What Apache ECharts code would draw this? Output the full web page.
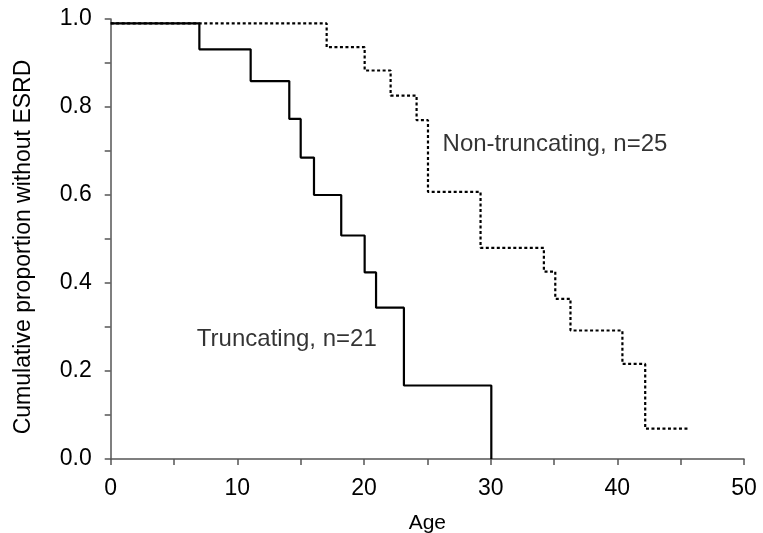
<!DOCTYPE html>
<html><head><meta charset="utf-8">
<script src="https://cdn.jsdelivr.net/npm/echarts@6/dist/echarts.min.js"></script>
<style>html,body{margin:0;padding:0;background:#fff}#c{width:763px;height:533px}</style>
</head><body><div id="c"></div>
<script>
// Kaplan-Meier step events [age, proportion]
const truncAges = [0, 7.0, 11.05, 14.1, 15.0, 16.05, 18.2, 20.05, 20.95, 23.15, 30.05];
const truncVals = [0.99, 0.931, 0.859, 0.773, 0.685, 0.600, 0.508, 0.424, 0.344, 0.167, 0.0];
const nonTruncAges = [0, 17.05, 20.05, 22.1, 24.15, 25.05, 29.2, 34.2, 35.1, 36.3, 40.4, 42.2, 45.7];
const nonTruncVals = [0.99, 0.936, 0.883, 0.826, 0.770, 0.607, 0.480, 0.426, 0.364, 0.292, 0.216, 0.069, 0.069];
const labels = [
  {text: 'Non-truncating, n=25', x: 26.2, y: 0.716},
  {text: 'Truncating, n=21', x: 6.8, y: 0.273}
];
const xTitle = 'Age';
const yTitle = 'Cumulative proportion without ESRD';

const zip = (a, b) => a.map((v, i) => [v, b[i]]);
const chart = echarts.init(document.getElementById('c'), null, {renderer: 'canvas'});
const axisCol = '#555';
const font = 'Liberation Sans';
chart.setOption({
  animation: false,
  backgroundColor: '#fff',
  grid: {left: 110.7, right: 19, top: 19, bottom: 74, outerBoundsMode: 'none', containLabel: false},
  xAxis: {
    type: 'value', min: 0, max: 50, interval: 10,
    name: xTitle, nameLocation: 'middle', nameGap: 54,
    nameTextStyle: {fontFamily: font, fontSize: 21, color: '#000'},
    axisLine: {show: true, onZero: false, lineStyle: {color: axisCol, width: 1.5}},
    axisTick: {show: true, inside: false, length: 6, lineStyle: {color: axisCol, width: 1.5}},
    minorTick: {show: true, splitNumber: 2, length: 6, lineStyle: {color: axisCol, width: 1.5}},
    axisLabel: {fontFamily: font, fontSize: 23, color: '#000', margin: 18},
    splitLine: {show: false}
  },
  yAxis: {
    type: 'value', min: 0, max: 1, interval: 0.2,
    name: yTitle, nameLocation: 'middle', nameGap: 76, nameRotate: 90,
    nameTextStyle: {fontFamily: font, fontSize: 23, color: '#000', padding: [0, 16, 0, 0]},
    axisLine: {show: true, onZero: false, lineStyle: {color: axisCol, width: 1.5}},
    axisTick: {show: true, inside: false, length: 6, lineStyle: {color: axisCol, width: 1.5}},
    minorTick: {show: true, splitNumber: 2, length: 6, lineStyle: {color: axisCol, width: 1.5}},
    axisLabel: {fontFamily: font, fontSize: 23, color: '#000', margin: 19,
      formatter: v => v.toFixed(1)},
    splitLine: {show: false}
  },
  series: [
    {
      type: 'line', step: 'end', data: zip(truncAges, truncVals),
      symbol: 'none', lineStyle: {color: '#000', width: 2.2}, z: 3
    },
    {
      type: 'line', step: 'end', data: zip(nonTruncAges, nonTruncVals),
      symbol: 'none', lineStyle: {color: '#000', width: 2.2, type: [3, 2.5]}, z: 3
    },
    {
      type: 'scatter', symbolSize: 0,
      data: labels.map(l => ({value: [l.x, l.y], name: l.text})),
      label: {show: true, position: 'right', distance: 0, formatter: p => p.name,
        fontFamily: font, fontSize: 24, color: '#000'}
    }
  ]
});
</script></body></html>
